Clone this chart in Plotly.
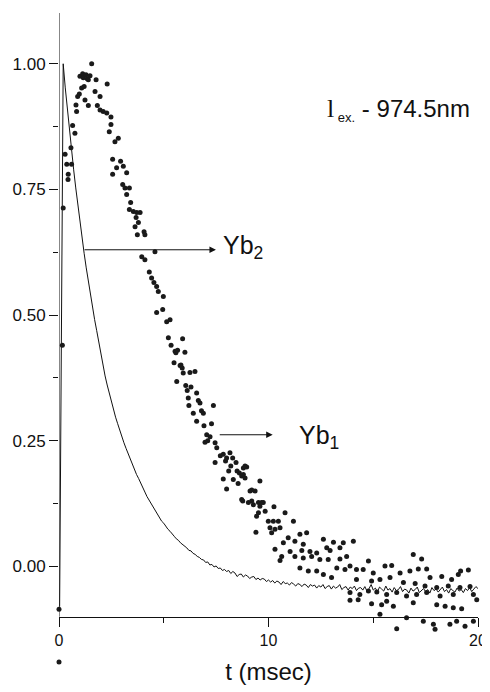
import plotly.graph_objects as go

# ---- Yb2 : solid decay curve (time in ms, normalised intensity) ----
line_t = [0.03, 0.2, 0.3, 0.4, 0.5, 0.6, 0.7, 0.8, 0.9, 1.0, 1.1, 1.2, 1.3, 1.4, 1.5, 1.6, 1.7, 1.8, 1.9,
          2.0, 2.1, 2.2, 2.3, 2.4, 2.5, 2.6, 2.7, 2.8, 2.9, 3.0, 3.1, 3.2, 3.3, 3.4, 3.5, 3.6, 3.7, 3.8, 3.9,
          4.0, 4.1, 4.2, 4.3, 4.4, 4.5, 4.6, 4.7, 4.8, 4.9, 5.0, 5.1, 5.2, 5.3, 5.4, 5.5, 5.6, 5.7, 5.8, 5.9,
          6.0, 6.1, 6.2, 6.3, 6.4, 6.5, 6.6, 6.7, 6.8, 6.9, 7.0, 7.1, 7.2, 7.3, 7.4, 7.5, 7.6, 7.7, 7.8, 7.9,
          8.0, 8.1, 8.2, 8.3, 8.4, 8.5, 8.6, 8.7, 8.8, 8.9, 9.0, 9.1, 9.2, 9.3, 9.4, 9.5, 9.6, 9.7, 9.8, 9.9,
          10.0, 10.1, 10.2, 10.3, 10.4, 10.5, 10.6, 10.7, 10.8, 10.9, 11.0, 11.1, 11.2, 11.3, 11.4, 11.5,
          11.6, 11.7, 11.8, 11.9, 12.0, 12.1, 12.2, 12.3, 12.4, 12.5, 12.6, 12.7, 12.8, 12.9, 13.0, 13.1,
          13.2, 13.3, 13.4, 13.5, 13.6, 13.7, 13.8, 13.9, 14.0, 14.1, 14.2, 14.3, 14.4, 14.5, 14.6, 14.7,
          14.8, 14.9, 15.0, 15.1, 15.2, 15.3, 15.4, 15.5, 15.6, 15.7, 15.8, 15.9, 16.0, 16.1, 16.2, 16.3,
          16.4, 16.5, 16.6, 16.7, 16.8, 16.9, 17.0, 17.1, 17.2, 17.3, 17.4, 17.5, 17.6, 17.7, 17.8, 17.9,
          18.0, 18.1, 18.2, 18.3, 18.4, 18.5, 18.6, 18.7, 18.8, 18.9, 19.0, 19.1, 19.2, 19.3, 19.4, 19.5,
          19.6, 19.7, 19.8, 19.9, 20.0]
line_y = [-0.080, 1.000, 0.952, 0.909, 0.867, 0.828, 0.789, 0.753, 0.718, 0.685, 0.653, 0.623, 0.594,
          0.566, 0.540, 0.515, 0.491, 0.469, 0.447,
          0.418, 0.398, 0.379, 0.361, 0.344, 0.328, 0.312, 0.297, 0.284, 0.270, 0.258, 0.246, 0.235, 0.224,
          0.214,
          0.204, 0.193, 0.183, 0.175, 0.165,
          0.157, 0.148, 0.139, 0.132, 0.124, 0.117, 0.109, 0.103, 0.097, 0.090,
          0.086, 0.079, 0.074, 0.070, 0.064, 0.060, 0.055, 0.052, 0.047, 0.044,
          0.040, 0.037, 0.032, 0.031, 0.026, 0.024, 0.020, 0.018, 0.014, 0.013,
          0.008, 0.009, 0.003, 0.004, -0.001, 0.001, -0.004, -0.003, -0.008, -0.006,
          -0.010, -0.008, -0.014, -0.010, -0.013, -0.020, -0.016, -0.015, -0.021, -0.017,
          -0.019, -0.024, -0.021, -0.020, -0.026, -0.023, -0.027, -0.024, -0.025, -0.030,
          -0.027, -0.031, -0.028, -0.033, -0.029, -0.031, -0.036, -0.030, -0.034, -0.033, -0.037, -0.032,
          -0.035, -0.039, -0.034, -0.036,
          -0.040, -0.035, -0.037, -0.042, -0.036, -0.039, -0.037, -0.043, -0.038, -0.041, -0.036, -0.044,
          -0.040, -0.038, -0.045, -0.039,
          -0.043, -0.041, -0.036, -0.046, -0.042, -0.040, -0.047, -0.041, -0.044, -0.039, -0.048, -0.043,
          -0.042, -0.047, -0.040, -0.049,
          -0.044, -0.036, -0.047, -0.043, -0.050, -0.041, -0.045, -0.049, -0.039, -0.047, -0.044, -0.051,
          -0.042, -0.048, -0.046, -0.040,
          -0.050, -0.045, -0.047, -0.053, -0.043, -0.049, -0.046, -0.041, -0.052, -0.047, -0.044, -0.050,
          -0.046, -0.053, -0.042, -0.048,
          -0.045, -0.051, -0.047, -0.041, -0.050, -0.046, -0.053, -0.044, -0.048, -0.051, -0.043, -0.049,
          -0.046, -0.052, -0.044, -0.048,
          -0.042, -0.050, -0.045, -0.040, -0.044]

# ---- Yb1 : scattered points ----
dots_t = [0.0, 0.0, 0.16, 0.2, 0.29, 0.37, 0.44, 0.43, 0.57, 0.6, 0.65, 0.76,
          0.81, 0.84, 0.89, 0.97, 1.08, 1.0, 1.13, 1.16, 1.2, 1.29, 1.35, 1.4, 1.48, 1.56, 1.24, 1.4, 1.77,
          1.72, 1.96, 1.83, 1.96, 2.11, 2.28, 2.3, 2.48, 2.48, 2.4, 2.67, 2.83, 2.56, 2.56, 2.75, 2.94,
          3.07, 3.23, 3.04, 3.15, 3.36, 3.23, 3.42, 3.36, 3.55, 3.71, 3.87, 3.68, 3.79, 3.63, 3.74, 4.06,
          4.1, 3.95, 4.1, 4.58, 4.31, 4.42, 4.53, 4.66, 4.74, 4.98, 4.66, 4.95, 5.14, 5.3, 5.22, 5.9,
          5.35, 5.54, 5.58, 5.66, 6.01, 5.49, 5.78, 5.82, 5.88, 5.93, 6.25, 6.49, 5.62, 6.05, 6.12, 6.3,
          6.17, 6.2, 6.57, 6.65, 6.73, 6.8, 7.37, 6.41, 6.89, 6.57, 6.92, 7.28, 7.05, 7.1, 7.21, 6.97,
          7.45, 7.53, 7.7, 7.84, 8.16, 8.0, 8.29, 7.45, 8.45, 7.95, 8.1, 8.2, 7.84, 8.0, 8.32, 8.5, 8.55,
          8.61, 8.8, 8.96, 8.72, 8.88, 9.59, 9.12, 9.36, 8.77, 9.04, 9.28, 9.52, 9.59, 9.75,
          8.88, 8.8, 9.2, 8.72, 9.2, 9.67, 10.26, 9.52, 9.84, 9.43, 9.99, 10.23, 10.47, 10.79, 11.19,
          10.07, 10.31, 10.55, 9.4, 10.15, 11.82, 11.5, 10.94, 11.26, 10.71, 11.66, 12.62, 13.1, 13.57,
          14.05, 10.31, 11.03, 11.59, 11.98, 12.3, 12.78, 12.94, 13.41, 10.63, 11.26, 11.66, 12.06,
          12.45, 12.85, 13.41, 13.73, 10.55, 14.77, 16.91, 17.31, 11.5, 11.9, 12.3, 12.62, 13.26, 13.65,
          13.89, 14.2, 14.52, 15.0, 15.56, 15.88, 16.28, 16.75, 17.15, 17.55, 18.27, 18.74, 19.06, 19.17,
          19.54, 17.71, 13.01, 14.2, 14.92, 15.32, 15.8, 16.44, 17.0, 17.47, 18.03, 18.58, 19.14, 19.62,
          20.01, 13.89, 14.36, 14.77, 15.17, 15.64, 16.12, 16.59, 17.07, 17.55, 18.19, 18.82, 19.78,
          19.94, 13.89, 14.28, 14.92, 15.4, 15.64, 15.96, 16.91, 18.03, 18.43, 18.82, 19.22,
          16.12, 16.59, 17.39, 17.87, 17.95, 18.66, 18.98, 19.38, 19.78, 15.32]
dots_y = [-0.085, -0.19, 0.44, 0.713, 0.82, 0.80, 0.78, 0.77, 0.833, 0.80, 0.877, 0.862,
          0.918, 0.905, 0.935, 0.94, 0.952, 0.975, 0.98, 0.972, 0.955, 0.978, 0.97, 0.968, 0.976, 1.0,
          0.928, 0.917, 0.968,
          0.945, 0.935, 0.917, 0.908, 0.905, 0.902, 0.96, 0.894, 0.879, 0.865, 0.845, 0.852, 0.81, 0.78,
          0.793, 0.806,
          0.796, 0.783, 0.76, 0.753, 0.753, 0.74, 0.724, 0.71, 0.706, 0.704, 0.704, 0.694, 0.684, 0.676,
          0.66, 0.666,
          0.66, 0.616, 0.61, 0.626, 0.586, 0.574, 0.565, 0.557, 0.547, 0.537, 0.505, 0.511, 0.487, 0.491,
          0.455, 0.453,
          0.44, 0.428, 0.425, 0.43, 0.426, 0.405, 0.40, 0.401, 0.395, 0.385, 0.386, 0.388, 0.368, 0.36,
          0.35, 0.357,
          0.335, 0.32, 0.345, 0.33, 0.325, 0.31, 0.32, 0.305, 0.305, 0.289, 0.28, 0.284, 0.262, 0.25,
          0.258, 0.247,
          0.246, 0.236, 0.22, 0.223, 0.226, 0.216, 0.216, 0.207, 0.207, 0.21, 0.19, 0.2, 0.174, 0.154,
          0.173, 0.19, 0.165,
          0.186, 0.196, 0.198, 0.18, 0.176, 0.17, 0.15, 0.15, 0.13, 0.127, 0.123, 0.127, 0.12, 0.127,
          0.2, 0.183, 0.152, 0.133, 0.13, 0.127, 0.119, 0.107, 0.11, 0.1, 0.09, 0.09, 0.09, 0.107, 0.09,
          0.077, 0.074, 0.077, 0.068, 0.067, 0.067, 0.064, 0.057, 0.05, 0.047, 0.044, 0.054, 0.048, 0.047,
          0.05, 0.034, 0.03, 0.032, 0.03, 0.027, 0.037, 0.032, 0.037, 0.02, 0.02, 0.017, 0.02,
          0.014, 0.014, 0.015, 0.02, 0.012, 0.011, 0.024, 0.015, -0.003, -0.009, -0.009, -0.016, -0.003,
          -0.006,
          0.001, -0.006, -0.006, -0.013, 0.001, 0.002, -0.013, -0.009, -0.005, -0.005, -0.02, -0.026,
          -0.016, -0.009,
          -0.007, -0.022, -0.022, -0.026, -0.029, -0.026, -0.022, -0.032, -0.034, -0.039, -0.042, -0.039,
          -0.042, -0.04,
          -0.042, -0.052, -0.056, -0.049, -0.051, -0.056, -0.052, -0.059, -0.056, -0.052, -0.059, -0.056,
          -0.056,
          -0.066, -0.067, -0.066, -0.074, -0.076, -0.069, -0.079, -0.072, -0.076, -0.079, -0.082, -0.084,
          -0.124, -0.102, -0.109, -0.115, -0.125, -0.115, -0.109, -0.119, -0.109, -0.095]

x_ticks = [0, 10, 20]
x_ticktext = ["0", "10", "20"]
y_ticks = [0.0, 0.25, 0.5, 0.75, 1.0]
y_ticktext = ["0.00", "0.25", "0.50", "0.75", "1.00"]

Y_MIN_AXIS = -0.1      # where the x axis crosses
Y_MIN_VIEW = -0.2      # lowest value still drawn (stray points below the axis)
Y_MAX = 1.101

FONT = "Liberation Sans, Arial, sans-serif"

fig = go.Figure()
fig.add_trace(go.Scatter(x=line_t, y=line_y, mode="lines",
                         line=dict(color="#111111", width=1), showlegend=False, hoverinfo="skip"))
fig.add_trace(go.Scatter(x=dots_t, y=dots_y, mode="markers", cliponaxis=False,
                         marker=dict(color="#1a1a1a", size=5, line=dict(width=0)),
                         showlegend=False, hoverinfo="skip"))

# y axis line only spans the framed range (from the x axis up)
fig.add_shape(type="line", xref="x", yref="y", x0=0, x1=0, y0=Y_MIN_AXIS, y1=Y_MAX,
              line=dict(color="#111111", width=1))

arrow = dict(showarrow=True, arrowhead=2, arrowsize=1.3, arrowwidth=1, arrowcolor="#111111",
             axref="x", ayref="y", xref="x", yref="y", text="")
fig.add_annotation(x=7.49, y=0.63, ax=1.15, ay=0.63, **arrow)
fig.add_annotation(x=10.2, y=0.262, ax=7.6, ay=0.262, **arrow)

fig.add_annotation(x=7.75, y=0.635, xref="x", yref="y", xanchor="left", yanchor="middle",
                   showarrow=False, text="Yb<sub>2</sub>",
                   font=dict(family=FONT, size=25, color="#111111"))
fig.add_annotation(x=11.35, y=0.258, xref="x", yref="y", xanchor="left", yanchor="middle",
                   showarrow=False, text="Yb<sub>1</sub>",
                   font=dict(family=FONT, size=25, color="#111111"))
fig.add_annotation(x=12.7, y=0.91, xref="x", yref="y", xanchor="left", yanchor="middle",
                   showarrow=False,
                   text="<span style='font-family:Liberation Serif;font-size:26px'>l</span>"
                        "<sub><span style='font-size:13px'> ex.</span></sub> - 974.5nm",
                   font=dict(family=FONT, size=24, color="#111111"))

# page body has an 8px default margin; plot height chosen so 1 unit = 503 px
H, TOP = 684, 5
plot_h = (Y_MAX - Y_MIN_VIEW) * 503
fig.update_layout(
    width=482, height=H,
    margin=dict(l=51, r=12, t=TOP, b=H - TOP - plot_h),
    paper_bgcolor="white", plot_bgcolor="white",
    font=dict(family=FONT, size=17, color="#111111"),
    xaxis=dict(range=[0, 20], tickvals=x_ticks, ticktext=x_ticktext, automargin=False,
               anchor="free", position=(Y_MIN_AXIS - Y_MIN_VIEW) / (Y_MAX - Y_MIN_VIEW),
               showgrid=False, zeroline=False, showline=True, linecolor="#111111", linewidth=1,
               ticks="outside", ticklen=9, tickcolor="#111111",
               minor=dict(dtick=5, tick0=0, ticks="outside", ticklen=5, tickcolor="#111111"),
               tickfont=dict(size=16),
               title=dict(text="t (msec)", font=dict(size=24))),
    yaxis=dict(range=[Y_MIN_VIEW, Y_MAX], tickvals=y_ticks, ticktext=y_ticktext, automargin=False,
               showgrid=False, zeroline=False, showline=False,
               ticks="outside", ticklen=9, tickcolor="#111111",
               minor=dict(tickvals=[0.125, 0.375, 0.625, 0.875], ticks="outside", ticklen=5,
                          tickcolor="#111111"),
               tickfont=dict(size=17)),
)

fig.write_html("out.html")
